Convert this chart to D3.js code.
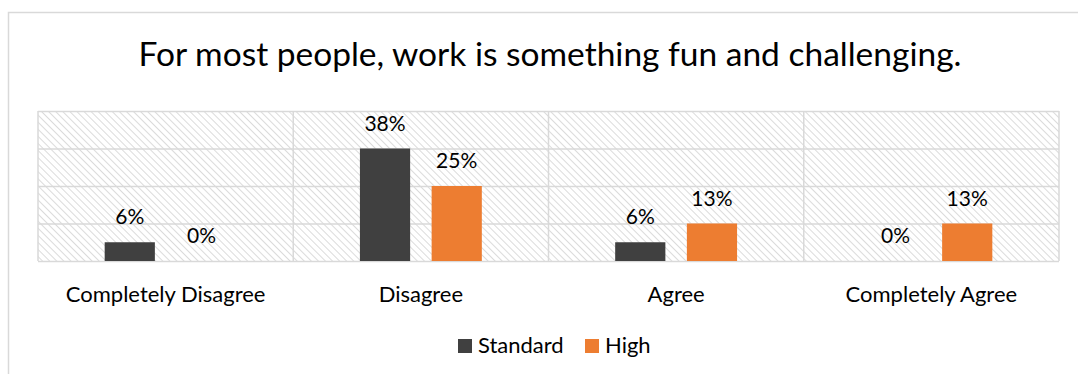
<!DOCTYPE html>
<html>
<head>
<meta charset="utf-8">
<script src="https://cdn.jsdelivr.net/npm/d3@7"></script>
<style>
  body { margin: 0; background: #fff; }
  svg { display: block; font-family: Lato, "Open Sans", sans-serif; }
</style>
</head>
<body>
<div id="chart"></div>
<script>
// Data
const categories = ['Completely Disagree', 'Disagree', 'Agree', 'Completely Agree'];
const seriesNames = ['Standard', 'High'];
const standardValues = [0.0625, 0.375, 0.0625, 0];
const highValues = [0, 0.25, 0.125, 0.125];
const yTicks = [0, 0.125, 0.25, 0.375, 0.5];
const colors = ['#404040', '#ed7d31'];

const W = 1078, H = 374;
const plot = { left: 38, right: 1059, top: 111, bottom: 261 };

const svg = d3.select('#chart')
  .append('svg')
  .attr('width', W)
  .attr('height', H);

// hatch pattern
const defs = svg.append('defs');
defs.append('pattern')
  .attr('id', 'hatch')
  .attr('patternUnits', 'userSpaceOnUse')
  .attr('width', 5)
  .attr('height', 5)
  .attr('patternTransform', 'rotate(-45)')
  .append('line')
  .attr('x1', 0).attr('y1', 0)
  .attr('x2', 0).attr('y2', 5)
  .attr('stroke', '#cccccc')
  .attr('stroke-width', 1.4);

// chart border (extends beyond the frame)
svg.append('rect')
  .attr('x', 8.5).attr('y', 12.5)
  .attr('width', 1100).attr('height', 400)
  .attr('fill', '#fff')
  .attr('stroke', '#d9d9d9')
  .attr('stroke-width', 1.5);

// Scales
const x0 = d3.scaleBand()
  .domain(categories)
  .range([plot.left, plot.right]);

const x1 = d3.scaleBand()
  .domain(seriesNames)
  .range([0, x0.bandwidth()])
  .paddingInner(0.3)
  .paddingOuter(0.93);

const y = d3.scaleLinear()
  .domain([0, 0.5])
  .range([plot.bottom, plot.top]);

// plot area background
svg.append('rect')
  .attr('x', plot.left).attr('y', plot.top)
  .attr('width', plot.right - plot.left)
  .attr('height', plot.bottom - plot.top)
  .attr('fill', 'url(#hatch)');

// horizontal gridlines
const grid = svg.append('g')
  .attr('transform', `translate(${plot.left},0)`)
  .call(d3.axisLeft(y).tickValues(yTicks).tickSize(-(plot.right - plot.left)).tickFormat(''));
grid.select('.domain').remove();
grid.selectAll('line').attr('stroke', '#d9d9d9').attr('stroke-width', 1.5);

// vertical separators
svg.append('g')
  .selectAll('line')
  .data(categories.concat(['end']))
  .join('line')
  .attr('x1', (d, i) => i < categories.length ? x0(d) : plot.right)
  .attr('x2', (d, i) => i < categories.length ? x0(d) : plot.right)
  .attr('y1', plot.top)
  .attr('y2', plot.bottom)
  .attr('stroke', '#d9d9d9')
  .attr('stroke-width', 1.5);

// Bars
const rows = categories.map((c, i) => ({
  cat: c,
  vals: [
    { s: 'Standard', v: standardValues[i], color: colors[0] },
    { s: 'High', v: highValues[i], color: colors[1] }
  ]
}));

const groups = svg.append('g')
  .selectAll('g')
  .data(rows)
  .join('g')
  .attr('transform', d => `translate(${x0(d.cat)},0)`);

groups.selectAll('rect')
  .data(d => d.vals)
  .join('rect')
  .attr('x', d => x1(d.s))
  .attr('y', d => y(d.v))
  .attr('width', x1.bandwidth())
  .attr('height', d => y(0) - y(d.v))
  .attr('fill', d => d.color);

// Data labels
groups.selectAll('text')
  .data(d => d.vals)
  .join('text')
  .attr('x', d => x1(d.s) + x1.bandwidth() / 2)
  .attr('y', d => y(d.v) - 18)
  .attr('text-anchor', 'middle')
  .attr('font-size', '21px')
  .attr('fill', '#000')
  .text(d => Math.round(d.v * 100) + '%');

// Category labels
svg.append('g')
  .selectAll('text')
  .data(categories)
  .join('text')
  .attr('x', d => x0(d) + x0.bandwidth() / 2)
  .attr('y', 302)
  .attr('text-anchor', 'middle')
  .attr('font-size', '22px')
  .attr('fill', '#000')
  .text(d => d);

// Title
svg.append('text')
  .attr('x', 550)
  .attr('y', 66)
  .attr('text-anchor', 'middle')
  .attr('font-size', '33.5px')
  .attr('fill', '#000')
  .text('For most people, work is something fun and challenging.');

// Legend
const legendX = [458, 585];
const legend = svg.append('g')
  .selectAll('g')
  .data(seriesNames)
  .join('g')
  .attr('transform', (d, i) => `translate(${legendX[i]},339)`);

legend.append('rect')
  .attr('width', 14).attr('height', 14)
  .attr('fill', (d, i) => colors[i]);

legend.append('text')
  .attr('x', 20)
  .attr('y', 14)
  .attr('font-size', '22px')
  .attr('fill', '#000')
  .text(d => d);
</script>
</body>
</html>
